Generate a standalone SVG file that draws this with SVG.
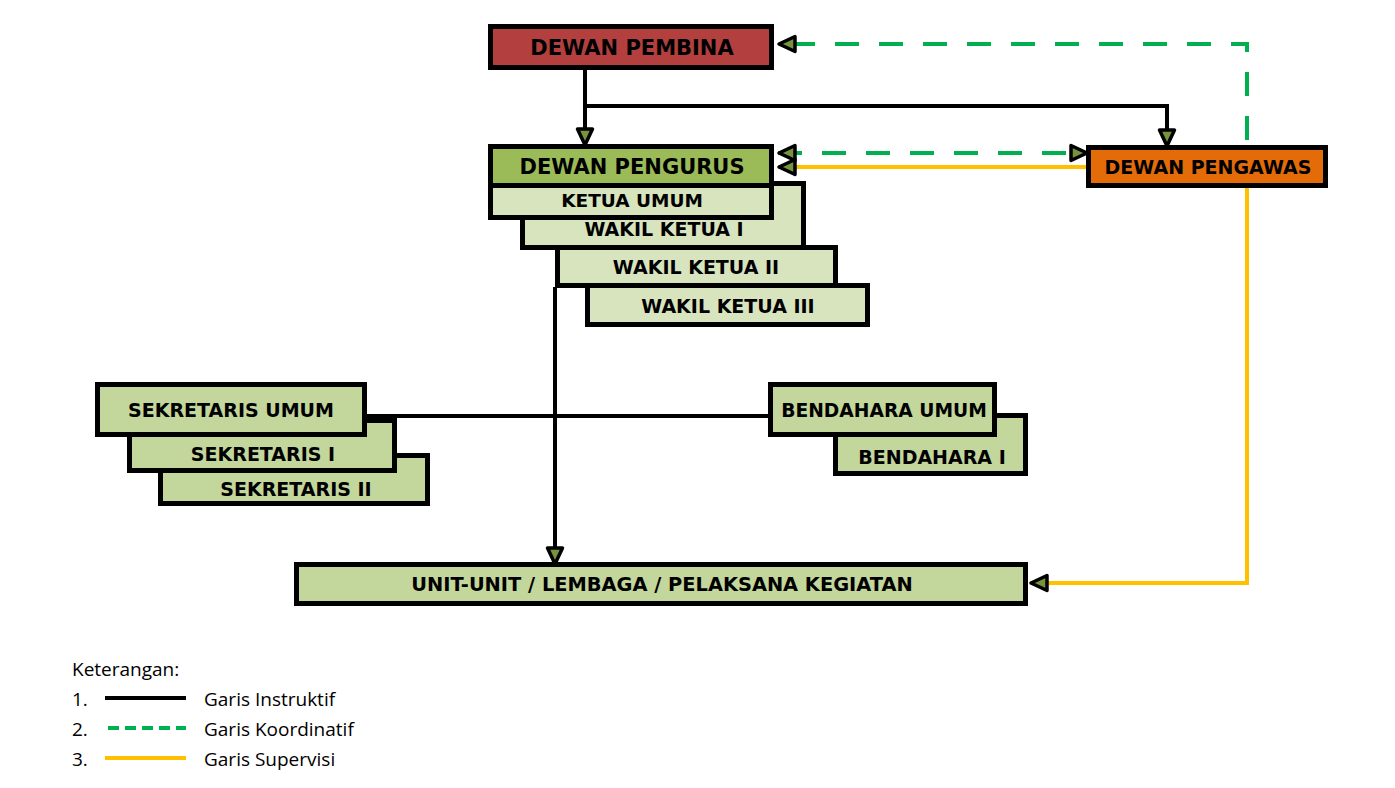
<svg xmlns="http://www.w3.org/2000/svg" width="1395" height="788" viewBox="0 0 1395 788">
<style>
.box{stroke:#000;stroke-width:5}
.t{font-family:"DejaVu Sans",Verdana,sans-serif;font-weight:bold;fill:#000;text-anchor:middle}
.ins{fill:none;stroke:#000;stroke-width:4}
.koo{fill:none;stroke:#00b050;stroke-width:4;stroke-dasharray:24 20}
.sup{fill:none;stroke:#ffc000;stroke-width:4}
.leg{font-family:"Open Sans",Lato,sans-serif;font-size:19px;fill:#000}
</style>
<defs>
<marker id="ah" markerUnits="userSpaceOnUse" viewBox="-24 -13 28 26" markerWidth="28" markerHeight="26" refX="0" refY="0" orient="auto-start-reverse">
<path d="M-1,0 L-17,-7.5 L-17,7.5 Z" fill="#77933c" stroke="#000" stroke-width="3.5" stroke-linejoin="round"/>
</marker>
</defs>
<rect width="1395" height="788" fill="#fff"/>
<g id="connectors">
<path class="ins" d="M585,70 V146" marker-end="url(#ah)"/>
<path class="ins" d="M587,106 H1167 V147" marker-end="url(#ah)"/>
<path class="ins" d="M555,287 V565" marker-end="url(#ah)"/>
<path class="ins" d="M367,416 H768"/>
<path class="koo" d="M1247,140 V44 H778" marker-end="url(#ah)"/>
<path class="koo" d="M778,153 H1088" marker-start="url(#ah)" marker-end="url(#ah)"/>
<path class="sup" d="M1088,167 H778" marker-end="url(#ah)"/>
<path class="sup" d="M1247,188 V583 H1030" marker-end="url(#ah)"/>
</g>
<g id="wakil-ketua-iii"><rect class="box" x="587.5" y="285.5" width="280" height="39" fill="#d7e4bd"/><text class="t" x="728" y="313" font-size="19">WAKIL KETUA III</text></g>
<g id="wakil-ketua-ii"><rect class="box" x="557.5" y="247.5" width="278" height="38" fill="#d7e4bd"/><text class="t" x="696" y="274" font-size="19">WAKIL KETUA II</text></g>
<g id="wakil-ketua-i"><rect class="box" x="522.5" y="183.5" width="281" height="64" fill="#d7e4bd"/><text class="t" x="664" y="236" font-size="19">WAKIL KETUA I</text></g>
<g id="ketua-umum"><rect class="box" x="490.5" y="185.5" width="281" height="32" fill="#d7e4bd"/><text class="t" x="632" y="207" font-size="18.5">KETUA UMUM</text></g>
<g id="dewan-pengurus"><rect class="box" x="490.5" y="146.5" width="281" height="39" fill="#9bbb59"/><text class="t" x="632" y="174" font-size="21">DEWAN PENGURUS</text></g>
<g id="dewan-pembina"><rect class="box" x="490.5" y="26.5" width="281" height="41" fill="#b3403f"/><text class="t" x="632" y="55" font-size="21">DEWAN PEMBINA</text></g>
<g id="dewan-pengawas"><rect class="box" x="1088.5" y="147.5" width="237" height="38" fill="#e36c09"/><text class="t" x="1208" y="174" font-size="19">DEWAN PENGAWAS</text></g>
<g id="sekretaris-ii"><rect class="box" x="160.5" y="455.5" width="267" height="48" fill="#c3d69b"/><text class="t" x="296" y="496" font-size="19">SEKRETARIS II</text></g>
<g id="sekretaris-i"><rect class="box" x="129.5" y="420.5" width="265" height="50" fill="#c3d69b"/><text class="t" x="263" y="461" font-size="19">SEKRETARIS I</text></g>
<g id="sekretaris-umum"><rect class="box" x="97.5" y="384.5" width="267" height="50" fill="#c3d69b"/><text class="t" x="231" y="417" font-size="19">SEKRETARIS UMUM</text></g>
<g id="bendahara-i"><rect class="box" x="835.5" y="415.5" width="190" height="58" fill="#c3d69b"/><text class="t" x="932" y="464" font-size="19">BENDAHARA I</text></g>
<g id="bendahara-umum"><rect class="box" x="770.5" y="384.5" width="224" height="50" fill="#c3d69b"/><text class="t" x="884" y="417" font-size="18.7">BENDAHARA UMUM</text></g>
<g id="unit"><rect class="box" x="296.5" y="564.5" width="729" height="39" fill="#c3d69b"/><text class="t" x="662" y="591" font-size="19.4">UNIT-UNIT / LEMBAGA / PELAKSANA KEGIATAN</text></g>
<g id="legend">
<text class="leg" x="72" y="676">Keterangan:</text>
<text class="leg" x="72" y="706">1.</text>
<text class="leg" x="72" y="736">2.</text>
<text class="leg" x="72" y="766">3.</text>
<line x1="105" y1="698" x2="186" y2="698" stroke="#000" stroke-width="4"/>
<line x1="108" y1="728" x2="186" y2="728" stroke="#00b050" stroke-width="4" stroke-dasharray="11 6"/>
<line x1="105" y1="758" x2="186" y2="758" stroke="#ffc000" stroke-width="4"/>
<text class="leg" x="204" y="706">Garis Instruktif</text>
<text class="leg" x="204" y="736">Garis Koordinatif</text>
<text class="leg" x="204" y="766">Garis Supervisi</text>
</g>
</svg>
